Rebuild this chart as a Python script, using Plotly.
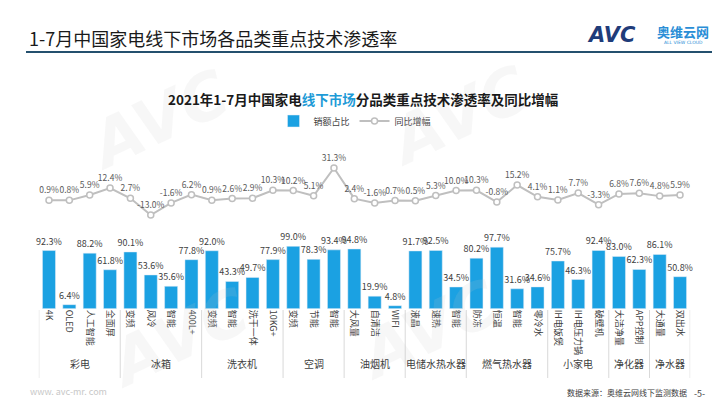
import plotly.graph_objects as go

# ---------------- data ----------------
groups = ["彩电", "冰箱", "洗衣机", "空调", "油烟机", "电储水热水器", "燃气热水器", "小家电", "净化器", "净水器"]
group_items = [
    ["4K", "OLED", "人工智能", "全面屏"],
    ["变频", "风冷", "智能", "400L+"],
    ["变频", "智能", "洗干一体", "10KG+"],
    ["变频", "节能", "智能"],
    ["大风量", "自清洁", "WIFI"],
    ["液晶", "速热", "智能"],
    ["防冻", "恒温", "智能", "零冷水"],
    ["IH电饭煲", "IH电压力锅", "破壁机"],
    ["大洁净量", "APP控制"],
    ["大通量", "双出水"],
]
share = [92.3, 6.4, 88.2, 61.8,
         90.1, 53.6, 35.6, 77.8,
         92.0, 43.3, 49.7, 77.9,
         99.0, 78.3, 93.4,
         94.8, 19.9, 4.8,
         91.7, 92.5, 34.5,
         80.2, 97.7, 31.6, 34.6,
         75.7, 46.3, 92.4,
         83.0, 62.3,
         86.1, 50.8]
yoy = [0.9, 0.8, 5.9, 12.4,
       2.7, -13.0, -1.6, 6.2,
       0.9, 2.6, 2.9, 10.3,
       10.2, 5.1, 31.3,
       2.4, -1.6, 0.7,
       0.5, 5.3, 10.0,
       10.3, -0.8, 15.2, 4.1,
       1.1, 7.7, -3.3,
       6.8, 7.6,
       4.8, 5.9]

labels = [it for g in group_items for it in g]
idx = list(range(len(labels)))

W, H = 720, 405
FONT = "Noto Sans CJK SC"


def py(p):  # pixel y -> paper y
    return 1 - p / H


def px(p):
    return p / W


BAR_C = "#1BA1E2"
LINE_C = "#BFBFBF"

fig = go.Figure()
fig.add_trace(go.Bar(
    x=idx, y=share, name="销额占比", marker_color=BAR_C,
    texttemplate="%{y:.1f}%", textposition="outside", constraintext="none",
    textfont=dict(size=9, color="#404040", family=FONT), cliponaxis=False,
    xaxis="x", yaxis="y",
))
fig.add_trace(go.Scatter(
    x=idx, y=yoy, name="同比增幅", mode="lines+markers+text",
    line=dict(color=LINE_C, width=2),
    marker=dict(size=6, color="white", line=dict(color=LINE_C, width=1.5)),
    texttemplate="%{y:.1f}%", textposition="top center",
    textfont=dict(size=8.5, color="#595959", family=FONT), cliponaxis=False,
    xaxis="x", yaxis="y2",
))

n = len(labels)
fig.update_layout(
    width=W, height=H, margin=dict(l=0, r=0, t=0, b=0),
    paper_bgcolor="white", plot_bgcolor="rgba(0,0,0,0)",
    font=dict(family=FONT, color="#404040"),
    bargap=0.36,
    showlegend=True,
    legend=dict(orientation="h", x=px(347), y=py(113), xanchor="center", yanchor="middle",
                font=dict(size=9, color="#404040", family=FONT), itemwidth=30,
                bgcolor="rgba(0,0,0,0)", traceorder="normal"),
    xaxis=dict(domain=[px(30.8), px(682.2)], range=[-0.5, n - 0.5],
               tickmode="array", tickvals=idx, ticktext=labels, tickangle=90,
               tickfont=dict(size=9, color="#404040", family=FONT),
               showgrid=False, zeroline=False, showline=False, ticks="",
               anchor="y", fixedrange=True),
    yaxis=dict(domain=[py(300.7), py(237.7)], range=[0, 100], visible=False,
               showgrid=False, zeroline=False),
    yaxis2=dict(domain=[py(207), py(160)], range=[-13, 31.3], visible=False,
                showgrid=False, zeroline=False, anchor="x"),
)

shapes = []
annotations = []


def note(x, y, text, size, color, family=FONT, xanchor="center", xref="paper", **kw):
    annotations.append(dict(x=x, y=y, xref=xref, yref="paper", xanchor=xanchor, yanchor="middle",
                            text=text, showarrow=False,
                            font=dict(size=size, color=color, family=family), **kw))


# watermarks (behind everything else in annotation order)
for wx, wy in [(150, 112), (450, 108), (420, 322), (170, 330)]:
    note(px(wx), py(wy), "<b><i>AVC</i></b>", 64, "rgba(200,200,200,0.14)",
         family="DejaVu Sans", textangle=-25)

# group dividers & group labels
start = 0
bounds = [-0.5]
for g, items in zip(groups, group_items):
    end = start + len(items)
    bounds.append(end - 0.5)
    note((start + end - 1) / 2, py(355), g, 10, "#404040", xref="x")
    start = end
for b in bounds:
    shapes.append(dict(type="line", xref="x", yref="paper", x0=b, x1=b,
                       y0=py(302), y1=py(370), line=dict(color="#D9D9D9", width=1)))

# header underline
shapes.append(dict(type="line", xref="paper", yref="paper", x0=px(18), x1=px(712),
                   y0=py(44), y1=py(44), line=dict(color="#24506E", width=2)))

# title
note(px(19), py(30), "1-7月中国家电线下市场各品类重点技术渗透率", 18, "#1A1A1A", xanchor="left")
# logo
note(px(603), py(27), "<b><i>AVC</i></b>", 21, "#1F3C7A", family="DejaVu Sans")
note(px(675), py(24), "<b>奥维云网</b>", 13, "#2A8ED6")
note(px(675), py(35), "ALL VIEW CLOUD", 4.5, "#2A8ED6", family="DejaVu Sans")
# subtitle
note(px(355), py(91),
     "<b>2021年1-7月中国家电<span style='color:#1E9BD7'>线下市场</span>分品类重点技术渗透率及同比增幅</b>",
     13.5, "#1A1A1A")
# footer
note(px(20), py(383), "www. avc-mr. com", 9, "#C8C8C8", xanchor="left")
note(px(557), py(384), "数据来源：奥维云网线下监测数据", 8, "#404040", xanchor="left")
note(px(691), py(385), "-5-", 9, "#404040")

fig.update_layout(shapes=shapes, annotations=annotations)
fig.write_html("out.html")
